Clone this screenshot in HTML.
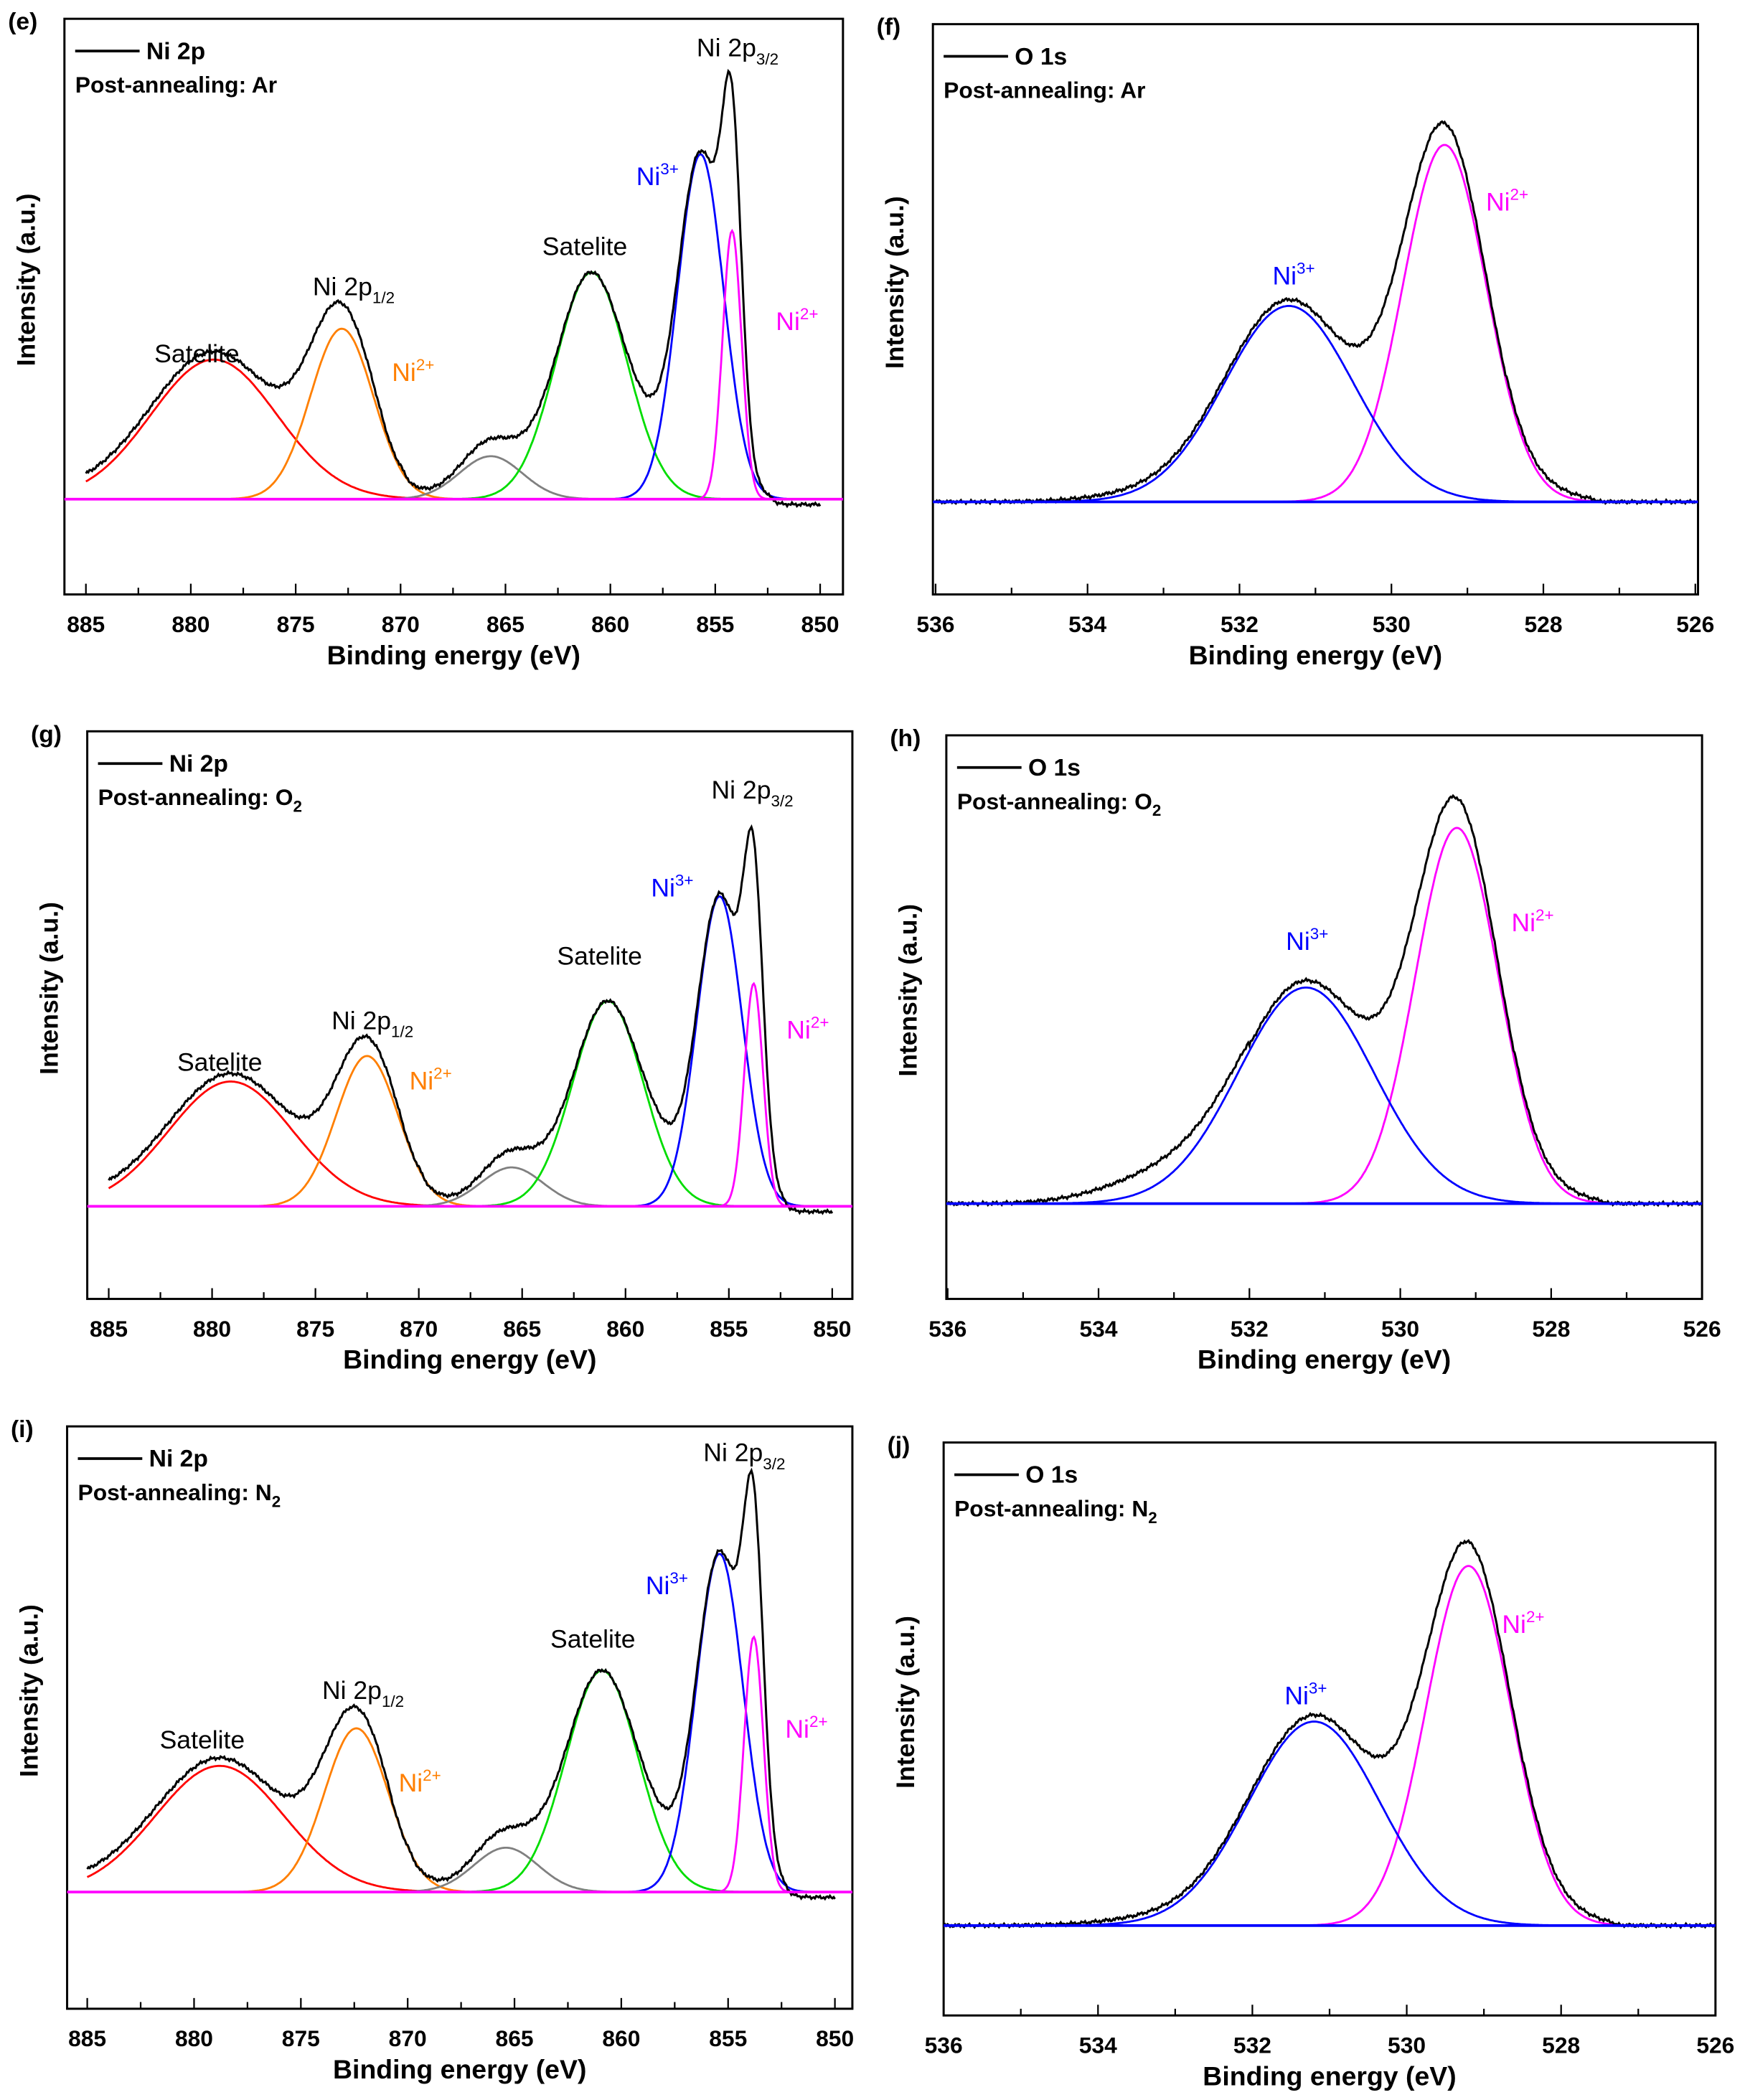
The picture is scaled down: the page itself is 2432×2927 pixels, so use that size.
<!DOCTYPE html>
<html><head><meta charset="utf-8">
<style>html,body{margin:0;padding:0;background:#fff}svg{display:block}
text{font-family:"Liberation Sans",Arial,sans-serif}</style></head>
<body>
<svg id="s" width="2432" height="2927" viewBox="0 0 1300 1565" preserveAspectRatio="none" xmlns="http://www.w3.org/2000/svg"></svg>
<script>
const S=document.getElementById('s');let H='';
function g(x,c,a,s){return a*Math.exp(-((x-c)*(x-c))/(2*s*s));}
function panel(p){
 const X=e=>p.x0+(p.e0-e)*(p.x1-p.x0)/(p.e0-p.e1);
 H+=`<rect x="${p.L}" y="${p.T}" width="${p.R-p.L}" height="${p.B-p.T}" fill="none" stroke="#000" stroke-width="1.6"/>`;
 for(let e=p.e0;e>=p.e1-1e-6;e-=p.minor){const x=X(e);if(x<p.L-1||x>p.R+1)continue;
  const major=Math.abs((e/p.major)-Math.round(e/p.major))<1e-6;
  H+=`<line x1="${x}" x2="${x}" y1="${p.B}" y2="${p.B-(major?8:5)}" stroke="#000" stroke-width="1.2"/>`;
  if(major)H+=`<text x="${x}" y="${p.B+28}" font-size="17" font-weight="bold" text-anchor="middle">${Math.round(e)}</text>`;}
 H+=`<text x="${(p.L+p.R)/2}" y="${p.B+52}" font-size="20" font-weight="bold" text-anchor="middle">Binding energy (eV)</text>`;
 H+=`<text transform="translate(${p.L-22},${(p.T+p.B)/2-20}) rotate(-90)" font-size="19" font-weight="bold" text-anchor="middle">Intensity (a.u.)</text>`;
 H+=`<text x="${p.L-42}" y="${p.T+8}" font-size="18" font-weight="bold">(${p.lab})</text>`;
 H+=`<line x1="${p.L+8}" x2="${p.L+56}" y1="${p.T+24}" y2="${p.T+24}" stroke="#000" stroke-width="2"/>`;
 H+=`<text x="${p.L+61}" y="${p.T+30}" font-size="18" font-weight="bold">${p.leg}</text>`;
 H+=`<text x="${p.L+8}" y="${p.T+55}" font-size="17" font-weight="bold">Post-annealing: ${p.gas}</text>`;
 const E=[];for(let i=0;i<=600;i++)E.push(p.e0-(p.e0-p.e1)*i/600);
 p.peaks.forEach(k=>{let d='';E.forEach((e,i)=>{const y=p.base-g(e,k[0],k[1],k[2]);d+=(i?'L':'M')+X(e).toFixed(1)+' '+y.toFixed(1);});
  H+=`<path d="${d}" fill="none" stroke="${k[3]}" stroke-width="1.5"/>`;});
 let d='';E.forEach((e,i)=>{let v=0;p.peaks.forEach(k=>v+=g(e,k[0],k[1],k[2]));v=p.black(e,v,p);
  v+=Math.sin(i*2.3)*0.8+Math.sin(i*0.71)*0.6;
  d+=(i?'L':'M')+X(e).toFixed(1)+' '+(p.base-v).toFixed(1);});
 H+=`<path d="${d}" fill="none" stroke="#000" stroke-width="1.6"/>`;
 H+=`<line x1="${p.L}" x2="${p.R}" y1="${p.base}" y2="${p.base}" stroke="${p.bl}" stroke-width="2"/>`;
 p.txt.forEach(t=>H+=t);
}
function niBlack(e,v,p){
 let b=0; if(e>869.5) b=6*Math.min(1,(e-869.5)/0.5); if(e<852.5) b=-4*Math.min(1,(852.5-e)/0.5);
 v+=10*Math.exp(-((e-858.3)**2)/1.2);
 v+=10*Math.exp(-((e-865.8)**2)/3);
 v+=g(e,p.peaks[5][0]+0.05,p.bump,0.6);
 if(e>868.5&&e<871.5) v*=1-0.2*Math.exp(-((e-870)**2)/0.6);
 return v+b;}
function oBlack(e,v){ let t=e>531?4*Math.exp(-((e-533.3)**2)/1):0; return v*1.03+t+(e<528.5&&e>527.3?5*Math.exp(-((e-527.9)**2)/0.3):0);}
function sup(x,y,c,base,s,fs=19){return `<text x="${x}" y="${y}" font-size="${fs}" fill="${c}">${base}<tspan font-size="12" dy="-8">${s}</tspan></text>`;}
function sub(x,y,c,base,s,fs=19){return `<text x="${x}" y="${y}" font-size="${fs}" fill="${c}">${base}<tspan font-size="12" dy="6">${s}</tspan></text>`;}
const NiPk=(r,o,gr,gn,bl,mg)=>[[r[0],r[1],3,'#f00'],[o[0],o[1],1.5,'#ff7f00'],[gr[0],gr[1],1.5,'#808080'],[gn[0],gn[1],1.7,'#00dd00'],[bl[0],bl[1],1.1,'#0000ff'],[mg[0],mg[1],0.45,'#ff00ff']];
panel({lab:'e',L:48,T:14,R:628,B:443,x0:64,x1:611,e0:885,e1:850,major:5,minor:2.5,base:372,leg:'Ni 2p',gas:'Ar',bl:'#ff00ff',bump:8,
 peaks:NiPk([878.9,104],[872.8,127],[865.7,32],[860.9,169],[855.7,257],[854.2,200]),black:niBlack,
 txt:[`<text x="115" y="270" font-size="19">Satelite</text>`,sub(233,220,'#000','Ni 2p','1/2'),sup(292,284,'#ff7f00','Ni','2+'),
 `<text x="404" y="190" font-size="19">Satelite</text>`,sup(474,138,'#0000ff','Ni','3+'),sub(519,42,'#000','Ni 2p','3/2'),sup(578,246,'#ff00ff','Ni','2+')]});
panel({lab:'g',L:65,T:545,R:635,B:968,x0:81,x1:620,e0:885,e1:850,major:5,minor:2.5,base:899,leg:'Ni 2p',gas:'O<tspan font-size="12" dy="5">2</tspan>',bl:'#ff00ff',bump:34,
 peaks:NiPk([879.1,93],[872.5,112],[865.5,29],[860.85,153],[855.45,231],[853.8,166]),black:niBlack,
 txt:[`<text x="132" y="798" font-size="19">Satelite</text>`,sub(247,767,'#000','Ni 2p','1/2'),sup(305,812,'#ff7f00','Ni','2+'),
 `<text x="415" y="719" font-size="19">Satelite</text>`,sup(485,668,'#0000ff','Ni','3+'),sub(530,595,'#000','Ni 2p','3/2'),sup(586,774,'#ff00ff','Ni','2+')]});
panel({lab:'i',L:50,T:1063,R:635,B:1497,x0:65,x1:622,e0:885,e1:850,major:5,minor:2.5,base:1410,leg:'Ni 2p',gas:'N<tspan font-size="12" dy="5">2</tspan>',bl:'#ff00ff',bump:28,
 peaks:NiPk([878.8,94],[872.4,122],[865.4,33],[860.9,165],[855.4,252],[853.8,190]),black:niBlack,
 txt:[`<text x="119" y="1303" font-size="19">Satelite</text>`,sub(240,1266,'#000','Ni 2p','1/2'),sup(297,1335,'#ff7f00','Ni','2+'),
 `<text x="410" y="1228" font-size="19">Satelite</text>`,sup(481,1188,'#0000ff','Ni','3+'),sub(524,1089,'#000','Ni 2p','3/2'),sup(585,1295,'#ff00ff','Ni','2+')]});
panel({lab:'f',L:695,T:18,R:1265,B:443,x0:697,x1:1263,e0:536,e1:526,major:2,minor:1,base:374,leg:'O 1s',gas:'Ar',bl:'#0000ff',
 peaks:[[529.3,266,0.55,'#ff00ff'],[531.35,146,0.85,'#0000ff']],black:oBlack,
 txt:[sup(948,212,'#0000ff','Ni','3+'),sup(1107,157,'#ff00ff','Ni','2+')]});
panel({lab:'h',L:705,T:548,R:1268,B:968,x0:706,x1:1268,e0:536,e1:526,major:2,minor:1,base:897,leg:'O 1s',gas:'O<tspan font-size="12" dy="5">2</tspan>',bl:'#0000ff',
 peaks:[[529.25,280,0.55,'#ff00ff'],[531.25,161,0.9,'#0000ff']],black:(e,v)=>oBlack(e,v)+(e>532?12*Math.exp(-((e-533.2)**2)/1.2):0),
 txt:[sup(958,708,'#0000ff','Ni','3+'),sup(1126,694,'#ff00ff','Ni','2+')]});
panel({lab:'j',L:703,T:1075,R:1278,B:1502,x0:703,x1:1278,e0:536,e1:526,major:2,minor:1,base:1435,leg:'O 1s',gas:'N<tspan font-size="12" dy="5">2</tspan>',bl:'#0000ff',
 peaks:[[529.2,268,0.55,'#ff00ff'],[531.2,152,0.85,'#0000ff']],black:oBlack,
 txt:[sup(957,1270,'#0000ff','Ni','3+'),sup(1119,1217,'#ff00ff','Ni','2+')]});
S.innerHTML=H;
</script>
</body></html>
